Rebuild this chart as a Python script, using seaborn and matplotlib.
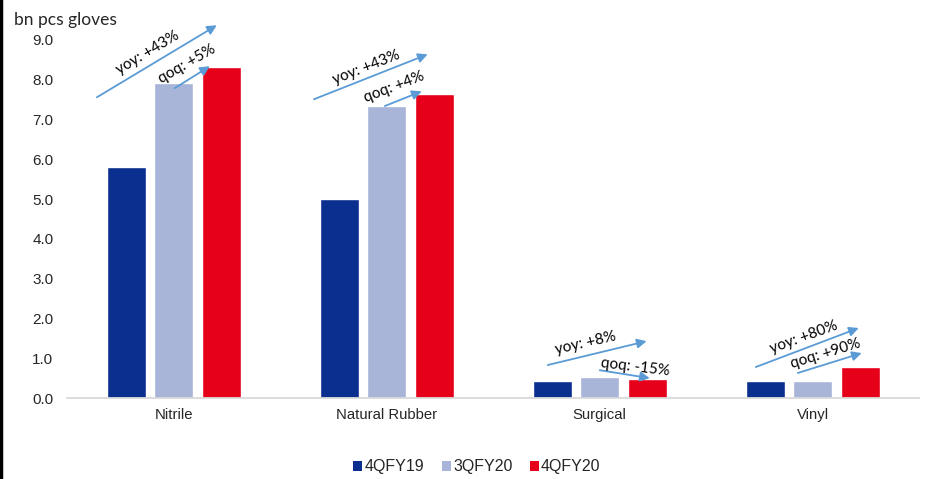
import matplotlib
matplotlib.use("Agg")
import matplotlib.pyplot as plt
from matplotlib.lines import Line2D
from matplotlib.patches import Patch
import seaborn as sns
import pandas as pd

# Glove sales volume by type, billion pieces
categories = ["Nitrile", "Natural Rubber", "Surgical", "Vinyl"]
quarters = ["4QFY19", "3QFY20", "4QFY20"]
v_4qfy19 = [5.80, 5.00, 0.43, 0.43]
v_3qfy20 = [7.91, 7.34, 0.54, 0.43]
v_4qfy20 = [8.32, 7.64, 0.47, 0.79]
colors = ["#0B2F8E", "#A8B4D8", "#E6001A"]

# Growth call-outs: label, text anchor offset from category centre, rotation,
# arrow tail and head offsets (x relative to category centre, y in bn pcs)
yoy_labels = ["yoy: +43%", "yoy: +43%", "yoy: +8%", "yoy: +80%"]
qoq_labels = ["qoq: +5%", "qoq: +4%", "qoq: -15%", "qoq: +90%"]
yoy_text = [(-0.122, 8.67, 31), (-0.094, 8.32, 21.5), (-0.066, 1.38, 13), (-0.042, 1.53, 20)]
qoq_text = [(0.061, 8.39, 30), (0.033, 7.81, 21), (0.169, 0.78, -7), (0.061, 1.11, 17)]
yoy_arrow = [((-0.361, 7.56), (0.202, 9.37)), ((-0.342, 7.51), (0.192, 8.64)),
             ((-0.244, 0.83), (0.220, 1.43)), ((-0.267, 0.78), (0.216, 1.76))]
qoq_arrow = [((0.005, 7.79), (0.169, 8.34)), ((-0.009, 7.34), (0.164, 7.71)),
             ((0.000, 0.70), (0.235, 0.50)), ((-0.070, 0.63), (0.230, 1.13))]

df = pd.DataFrame({
    "category": categories * 3,
    "quarter": [q for q in quarters for _ in categories],
    "value": v_4qfy19 + v_3qfy20 + v_4qfy20,
})

sns.set_theme(style="white")
plt.rcParams["font.family"] = ["Liberation Sans", "DejaVu Sans"]

fig = plt.figure(figsize=(9.28, 4.79), dpi=100)
ax = fig.add_axes([0.0725, 0.169, 0.918, 0.7475])

sns.barplot(data=df, x="category", y="value", hue="quarter", hue_order=quarters,
            order=categories, palette=colors, width=0.671, gap=0.18,
            saturation=1, legend=False, ax=ax)

ax.set_ylim(0, 9)
ax.set_xlim(-0.5, len(categories) - 0.5)
ax.set_yticks([i for i in range(10)])
ax.set_yticklabels([f"{i:.1f}" for i in range(10)], fontsize=11)
ax.tick_params(axis="x", labelsize=10.7, length=0, pad=7)
ax.tick_params(axis="y", length=0, pad=10)
ax.set_xlabel("")
ax.set_ylabel("")
for s in ["top", "right", "left"]:
    ax.spines[s].set_visible(False)
ax.spines["bottom"].set_color("#D9D9D9")
ax.spines["bottom"].set_linewidth(1.3)

note_font = dict(family=["Lato", "DejaVu Sans"], fontsize=11, color="black")
arrow_color = "#5B9BD5"
for i in range(len(categories)):
    for labels, texts, arrows in ((yoy_labels, yoy_text, yoy_arrow),
                                  (qoq_labels, qoq_text, qoq_arrow)):
        (tx, ty), (hx, hy) = arrows[i]
        ax.annotate("", xy=(i + hx, hy), xytext=(i + tx, ty),
                    annotation_clip=False,
                    arrowprops=dict(arrowstyle="-|>", color=arrow_color, lw=1.3,
                                    mutation_scale=14, shrinkA=0, shrinkB=0))
        dx, ty2, rot = texts[i]
        ax.text(i + dx, ty2, labels[i], rotation=rot, rotation_mode="anchor",
                ha="center", va="center", clip_on=False, **note_font)

fig.text(14 / 928, 1 - 20 / 479, "bn pcs gloves", ha="left", va="center",
         family=["Lato", "DejaVu Sans"], fontsize=12.5)

handles = [Patch(facecolor=c, edgecolor="none") for c in colors]
fig.legend(handles, quarters, loc="center", bbox_to_anchor=(477 / 928, 1 - 467 / 479),
           ncol=3, frameon=False, fontsize=11.5, handlelength=0.55, handleheight=0.55,
           handletextpad=0.15, columnspacing=1.1)

fig.add_artist(Line2D([0.0015, 0.0015], [0, 1], transform=fig.transFigure,
                      color="black", lw=2.5))

fig.savefig("out.png", dpi=100)
